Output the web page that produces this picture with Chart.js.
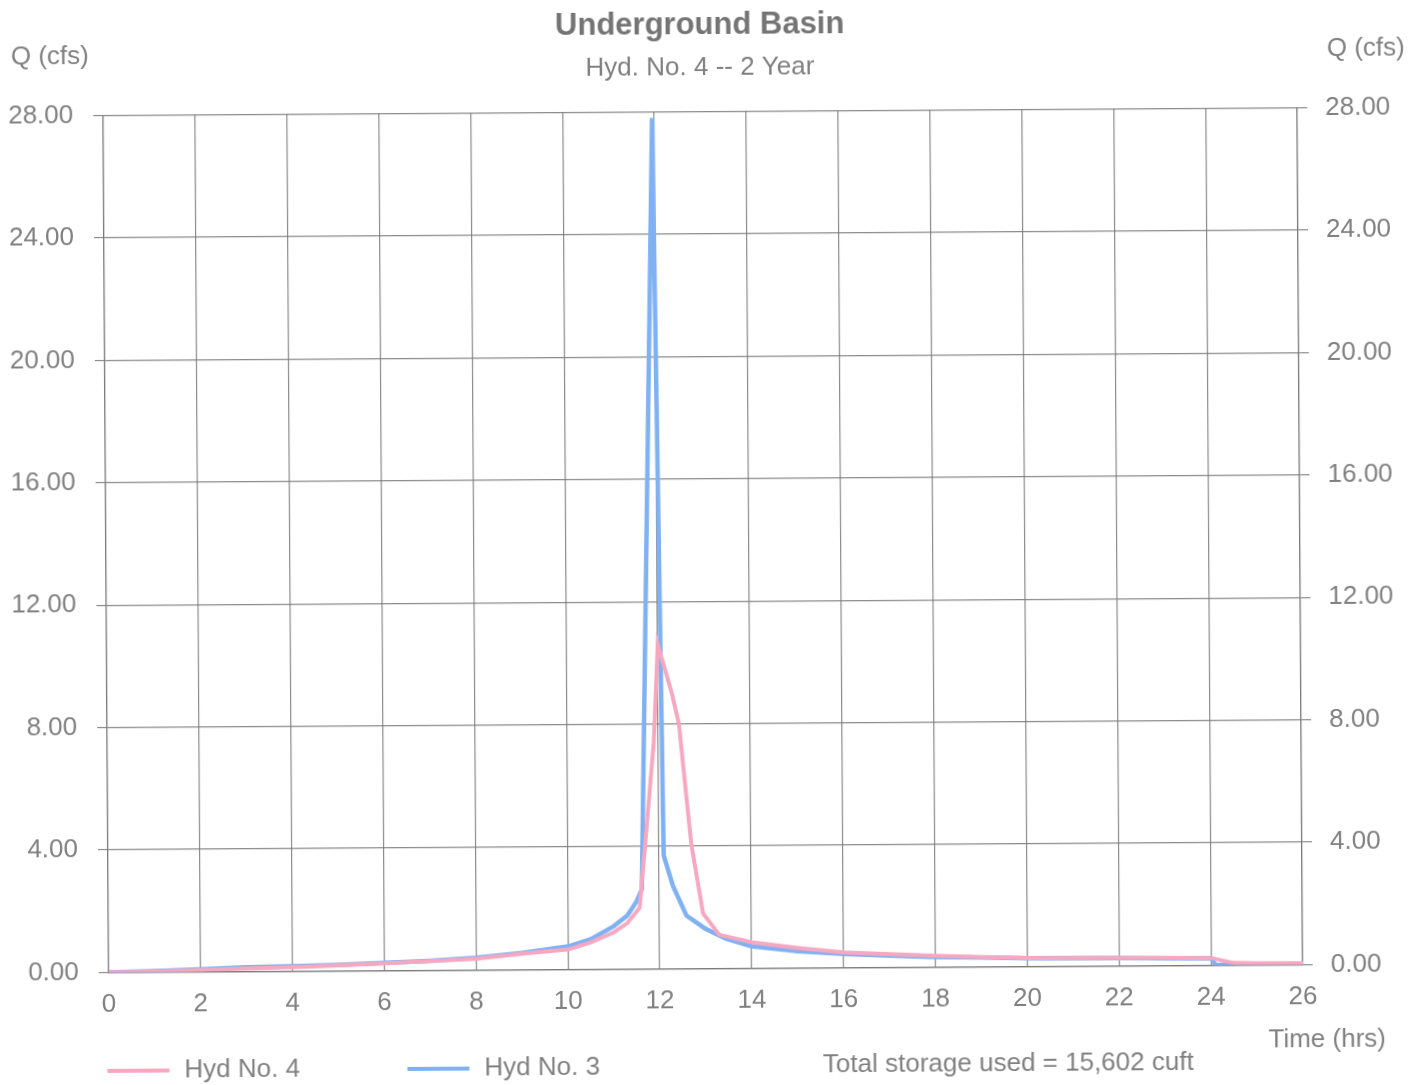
<!DOCTYPE html>
<html>
<head>
<meta charset="utf-8">
<script src="https://cdn.jsdelivr.net/npm/chart.js@4.4.1/dist/chart.umd.min.js"></script>
<style>
  html, body { margin: 0; padding: 0; background: #fff; overflow: hidden; }
  #sheet { width: 1421px; height: 1085px; transform: rotate(-0.37deg); transform-origin: 50% 50%; }
  canvas { display: block; }
</style>
</head>
<body>
<div id="sheet"><canvas id="hydrograph" width="1421" height="1085"></canvas></div>
<script>
// Hyd No. 4 (outflow) — time in hours, flow in cfs
const hoursNo4 = [0, 1, 2, 3, 4, 5, 6, 7, 8, 9, 10, 10.5, 11, 11.3, 11.57, 11.7, 11.9, 12.0, 12.3, 12.45, 12.7, 12.95, 13.3, 14, 15, 16, 17, 18, 19, 20, 21, 22, 23, 24, 24.5, 25, 26];
const flowNo4  = [0, 0.02, 0.06, 0.1, 0.13, 0.18, 0.24, 0.3, 0.37, 0.52, 0.65, 0.88, 1.2, 1.5, 2.0, 4.1, 7.4, 10.6, 9.0, 8.0, 4.1, 1.8, 1.1, 0.85, 0.65, 0.5, 0.43, 0.37, 0.32, 0.28, 0.27, 0.26, 0.25, 0.24, 0.07, 0.06, 0.05];

// Hyd No. 3 (inflow)
const hoursNo3 = [0, 1, 2, 3, 4, 5, 6, 7, 8, 9, 10, 10.5, 11, 11.3, 11.5, 11.62, 11.95, 12.1, 12.3, 12.59, 13.0, 13.45, 14, 15, 16, 17, 18, 19, 20, 21, 22, 23, 24, 24.1, 25, 26];
const flowNo3  = [0, 0.03, 0.08, 0.14, 0.16, 0.2, 0.25, 0.31, 0.4, 0.55, 0.75, 0.98, 1.4, 1.75, 2.2, 2.6, 27.8, 3.7, 2.7, 1.73, 1.3, 0.97, 0.72, 0.55, 0.45, 0.38, 0.33, 0.3, 0.27, 0.26, 0.25, 0.24, 0.23, 0.02, 0.01, 0.01];

// Axis ticks
const hourTicks = [0, 2, 4, 6, 8, 10, 12, 14, 16, 18, 20, 22, 24, 26];
const flowTicks = [0, 4, 8, 12, 16, 20, 24, 28];

const chartTitle = 'Underground Basin';
const chartSubtitle = 'Hyd. No. 4 -- 2 Year';
const yTitle = 'Q (cfs)';
const xTitle = 'Time (hrs)';
const storageNote = 'Total storage used = 15,602 cuft';
const seriesNames = ['Hyd No. 4', 'Hyd No. 3'];

const PINK = '#f6a8c0';
const BLUE = '#80b2f3';
const TEXT = '#808080';
const GRID = 'rgba(120,120,120,0.85)';
const FONT = '"Liberation Sans", Arial, Helvetica, sans-serif';

const toPoints = (xs, ys) => xs.map((x, i) => ({ x, y: ys[i] }));

const PLOT = { left: 106, right: 1300, top: 111.5, bottom: 968.5 };

const paper = {
  id: 'paper',
  beforeDraw(chart) {
    const ctx = chart.ctx;
    ctx.save();
    ctx.fillStyle = '#ffffff';
    ctx.fillRect(0, 0, chart.width, chart.height);
    ctx.restore();
  }
};

// Titles, axis captions, legend and storage note
const annotations = {
  id: 'annotations',
  afterDraw(chart) {
    const ctx = chart.ctx;
    ctx.save();
    ctx.textBaseline = 'middle';
    ctx.textAlign = 'center';

    ctx.fillStyle = '#747474';
    ctx.font = `bold 31px ${FONT}`;
    ctx.fillText(chartTitle, 703, 25);

    ctx.fillStyle = TEXT;
    ctx.font = `26px ${FONT}`;
    ctx.fillText(chartSubtitle, 703, 68);

    ctx.fillText(yTitle, 53, 53);
    ctx.fillText(yTitle, 1369, 53);
    ctx.fillText(xTitle, 1324, 1044);
    ctx.fillText(storageNote, 1005, 1066);

    // legend entries built from the datasets
    const starts = [104, 404];
    chart.data.datasets.forEach((ds, i) => {
      const x0 = starts[i];
      ctx.strokeStyle = ds.borderColor;
      ctx.lineWidth = 4;
      ctx.beginPath();
      ctx.moveTo(x0, 1067);
      ctx.lineTo(x0 + 62, 1067);
      ctx.stroke();
      ctx.fillStyle = TEXT;
      ctx.textAlign = 'left';
      ctx.fillText(ds.label, x0 + 77, 1067);
    });
    ctx.restore();
  }
};

new Chart(document.getElementById('hydrograph'), {
  type: 'line',
  data: {
    datasets: [
      {
        label: seriesNames[0],
        data: toPoints(hoursNo4, flowNo4),
        borderColor: PINK,
        borderWidth: 4,
        pointRadius: 0,
        tension: 0,
        fill: false,
        yAxisID: 'y'
      },
      {
        label: seriesNames[1],
        data: toPoints(hoursNo3, flowNo3),
        borderColor: BLUE,
        borderWidth: 4.5,
        pointRadius: 0,
        tension: 0,
        fill: false,
        yAxisID: 'y'
      }
    ]
  },
  options: {
    responsive: false,
    animation: false,
    devicePixelRatio: 1,
    layout: { padding: { left: 0, right: 0, top: PLOT.top, bottom: 0 } },
    plugins: {
      legend: { display: false },
      title: { display: false },
      tooltip: { enabled: false }
    },
    scales: {
      x: {
        type: 'linear',
        min: hourTicks[0],
        max: hourTicks[hourTicks.length - 1],
        afterBuildTicks(scale) { scale.ticks = hourTicks.map(v => ({ value: v })); },
        afterFit(scale) { scale.height = 1085 - PLOT.bottom; },
        ticks: {
          color: TEXT,
          font: { family: FONT, size: 26 },
          padding: 17,
          maxRotation: 0,
          autoSkip: false
        },
        grid: { color: GRID, lineWidth: 1.2, drawTicks: false },
        border: { color: GRID, width: 1.2 }
      },
      y: {
        position: 'left',
        min: flowTicks[0],
        max: flowTicks[flowTicks.length - 1],
        afterBuildTicks(scale) { scale.ticks = flowTicks.map(v => ({ value: v })); },
        afterFit(scale) { scale.width = PLOT.left; },
        ticks: {
          color: TEXT,
          font: { family: FONT, size: 26 },
          padding: 20,
          callback: v => Number(v).toFixed(2)
        },
        grid: { color: GRID, lineWidth: 1.2, tickLength: 10 },
        border: { color: GRID, width: 1.2 }
      },
      yRight: {
        position: 'right',
        min: flowTicks[0],
        max: flowTicks[flowTicks.length - 1],
        afterBuildTicks(scale) { scale.ticks = flowTicks.map(v => ({ value: v })); },
        afterFit(scale) { scale.width = 1421 - PLOT.right; },
        ticks: {
          color: TEXT,
          font: { family: FONT, size: 26 },
          padding: 18,
          callback: v => Number(v).toFixed(2)
        },
        grid: { color: GRID, lineWidth: 1.2, tickLength: 10, drawOnChartArea: false },
        border: { color: GRID, width: 1.2 }
      }
    }
  },
  plugins: [paper, annotations]
});
</script>
</body>
</html>
